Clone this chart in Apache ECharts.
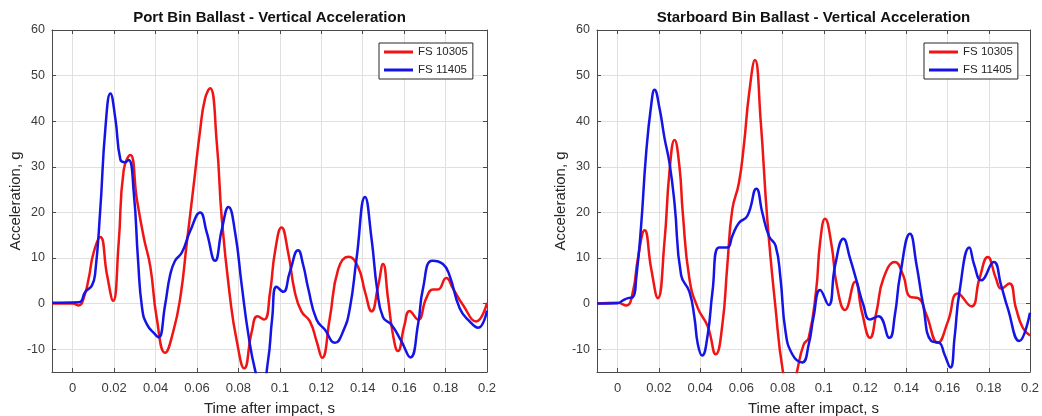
<!DOCTYPE html>
<html>
<head>
<meta charset="utf-8">
<script src="https://cdn.jsdelivr.net/npm/echarts@6/dist/echarts.min.js"></script>
<style>
  html, body { margin: 0; padding: 0; background: #ffffff; }
  #chart { width: 1042px; height: 416px; }
</style>
</head>
<body>
<div id="chart"></div>
<script>
// Test labels and panel titles
const seriesNames = ['FS 10305', 'FS 11405'];
const panelTitles = [
  'Port Bin Ballast - Vertical Acceleration',
  'Starboard Bin Ballast - Vertical Acceleration'
];
const xAxisTitle = 'Time after impact, s';
const yAxisTitle = 'Acceleration, g';

// Tick positions
const xTickValues = [0, 0.02, 0.04, 0.06, 0.08, 0.1, 0.12, 0.14, 0.16, 0.18, 0.2];
const yTickValues = [-10, 0, 10, 20, 30, 40, 50, 60];

// Port bin ballast, FS 10305 (time s, acceleration g)
const portTime10305 = [-0.01, 0.0, 0.0029, 0.0055, 0.0077, 0.0101, 0.0133, 0.0166, 0.0195, 0.0222, 0.0246, 0.0278, 0.031, 0.0343, 0.0375, 0.0405, 0.0446, 0.0486, 0.052, 0.0551, 0.0583, 0.0615, 0.0639, 0.0663, 0.0696, 0.072, 0.076, 0.0792, 0.0828, 0.0865, 0.0892, 0.0924, 0.0953, 0.0976, 0.1008, 0.104, 0.1072, 0.1104, 0.1145, 0.1177, 0.1204, 0.1241, 0.1282, 0.133, 0.1378, 0.1411, 0.1443, 0.1475, 0.1498, 0.1522, 0.1546, 0.157, 0.1602, 0.1626, 0.1667, 0.1707, 0.1739, 0.1763, 0.1803, 0.1836, 0.1884, 0.1948, 0.2];
const portAccel10305 = [0, 0, -0.4, 1.5, 5.5, 11.2, 14.6, 6.2, 0.6, 13.4, 29.2, 32.6, 22.8, 14.5, 8, -3, -10.8, -6, 1.5, 13.4, 25.6, 38, 45, 47.2, 35, 18.4, 1.2, -8.2, -14.2, -6, -2.8, -3.5, 2.6, 11.2, 16.7, 11.2, 2.6, -1.7, -3.9, -8.2, -11.9, -3.2, 7.6, 10.3, 8, 2.6, -1.7, 4, 8.7, 1.2, -6.8, -10.4, -4.6, -1.6, -3.5, 1.2, 3.1, 3.1, 5.6, 3.3, -0.3, -3.9, 0.2];

// Port bin ballast, FS 11405
const portTime11405 = [-0.01, 0.0029, 0.0061, 0.0093, 0.0109, 0.0133, 0.0158, 0.0182, 0.0206, 0.023, 0.0251, 0.027, 0.0295, 0.0315, 0.0335, 0.0359, 0.0399, 0.0415, 0.0446, 0.047, 0.0494, 0.0527, 0.0567, 0.0615, 0.0647, 0.0687, 0.072, 0.0752, 0.0784, 0.0816, 0.0848, 0.0881, 0.0912, 0.0943, 0.0963, 0.0984, 0.1016, 0.1048, 0.1088, 0.1113, 0.1137, 0.1177, 0.1217, 0.1266, 0.1306, 0.1338, 0.137, 0.1411, 0.1443, 0.147, 0.1498, 0.1538, 0.1586, 0.163, 0.1667, 0.1691, 0.1736, 0.1787, 0.1819, 0.1868, 0.1916, 0.1957, 0.2];
const portAccel11405 = [0.2, 0.3, 2.6, 4, 6.9, 20.6, 38.6, 46.1, 40.5, 31.6, 31.0, 31.5, 24.2, 9.8, -1, -4.6, -6.8, -7.4, -0.3, 6.2, 9.4, 11.2, 15.9, 20, 15.6, 9.4, 16.3, 21.2, 15.6, 4, -6.8, -14.7, -19, -12.5, -3.2, 3.7, 2.6, 6.9, 11.7, 8.4, 3.3, -3.5, -5.7, -8.6, -6, -1, 9.8, 23.4, 14.1, 3, -3, -4.6, -8.2, -11.8, -4.6, 3.3, 9.4, 8.7, 6.2, -1, -3.9, -5.3, -1.5];

// Starboard bin ballast, FS 10305
const stbdTime10305 = [-0.01, 0.0, 0.0042, 0.0074, 0.0098, 0.0131, 0.0163, 0.0195, 0.0227, 0.0252, 0.0276, 0.03, 0.0316, 0.0348, 0.0389, 0.0437, 0.0476, 0.0508, 0.0532, 0.0556, 0.0588, 0.0613, 0.0637, 0.0666, 0.0694, 0.0726, 0.0766, 0.0801, 0.084, 0.0871, 0.0903, 0.0927, 0.0963, 0.0982, 0.1006, 0.1038, 0.1063, 0.1103, 0.1152, 0.1184, 0.1224, 0.1256, 0.1289, 0.1345, 0.1385, 0.1418, 0.1458, 0.1497, 0.1553, 0.1602, 0.165, 0.1715, 0.1755, 0.1795, 0.1835, 0.186, 0.19, 0.1932, 0.1965, 0.2];
const stbdAccel10305 = [0, 0.2, -0.4, 2.6, 9.8, 16.1, 7.6, 1.2, 13.4, 29.2, 35.9, 30, 19.9, 5.5, -1, -5, -11.1, -4.6, 8.4, 20.6, 26.4, 35, 45.8, 53.4, 40, 18.4, -1, -14.7, -22, -14.7, -8.9, -7.5, 3, 13.4, 18.6, 12.7, 4, -1.4, 4.8, -1.7, -7.5, -1.7, 5.5, 9.1, 6.2, 1.5, 1.2, -2.4, -8.6, -3.9, 2.2, -0.6, 5.5, 10.2, 5.5, 3.3, 4.4, -1, -5.3, -7];

// Starboard bin ballast, FS 11405
const stbdTime11405 = [-0.01, 0.0, 0.0026, 0.005, 0.0074, 0.009, 0.0114, 0.0138, 0.0163, 0.0179, 0.0203, 0.0227, 0.0252, 0.0276, 0.0308, 0.0348, 0.0373, 0.0389, 0.041, 0.0437, 0.046, 0.0492, 0.0532, 0.0556, 0.0588, 0.0629, 0.0673, 0.0702, 0.0734, 0.0766, 0.079, 0.0814, 0.0847, 0.0895, 0.0927, 0.095, 0.0982, 0.1023, 0.1055, 0.1095, 0.1128, 0.116, 0.1192, 0.1224, 0.1265, 0.1318, 0.1345, 0.137, 0.1418, 0.145, 0.1482, 0.1521, 0.1561, 0.1585, 0.1614, 0.1634, 0.1658, 0.1706, 0.173, 0.1763, 0.1824, 0.186, 0.1892, 0.1948, 0.2];
const stbdAccel11405 = [0, 0.1, 0.7, 1.2, 1.4, 5.5, 17.1, 32.8, 43.6, 46.9, 42.9, 36.4, 30.7, 22, 6.2, 2.6, -3.2, -8.9, -11.4, -6.8, 2.6, 12.3, 12.3, 14.8, 17.7, 19.2, 25.2, 19.9, 14.8, 12.7, 5.5, -6, -11.1, -12.9, -8.9, -3, 3, -0.3, 8.4, 14.2, 9.8, 4.8, -0.3, -3.5, -2.8, -7.5, -2.4, 6.2, 15.3, 8.4, -0.3, -8.2, -8.6, -11.1, -14, -7.5, 2.6, 12.3, 8.4, 5.1, 9.1, 4, -1, -8.2, -2];

const lineColors = ['#f01414', '#1414e6'];
const fontFamily = '"Liberation Sans", Arial, Helvetica, sans-serif';
const boxColor = '#4a4a4a';
const gridColor = '#e0e0e0';

function pairs(ts, vs) {
  return ts.map((t, i) => [t, vs[i]]);
}

const grids = [
  { left: 52, top: 30, width: 435, height: 342, outerBoundsMode: 'none', containLabel: false },
  { left: 597, top: 30, width: 433, height: 342, outerBoundsMode: 'none', containLabel: false }
];

function fmtX(v) {
  return String(+(+v).toFixed(2));
}

function xAxisFor(gridIndex, position, main) {
  return {
    type: 'value', gridIndex, position,
    min: -0.01, max: 0.2,
    axisLine: { show: true, onZero: false, lineStyle: { color: boxColor, width: 1 } },
    axisTick: { show: true, inside: true, length: 4, customValues: xTickValues, lineStyle: { color: boxColor } },
    axisLabel: {
      show: main, customValues: xTickValues, margin: 10,
      color: '#3a3a3a', fontSize: 13, fontFamily, formatter: fmtX
    },
    splitLine: { show: main, lineStyle: { color: gridColor, width: 1 } },
    name: main ? xAxisTitle : '',
    nameLocation: 'middle', nameGap: 29,
    nameTextStyle: { color: '#262626', fontSize: 15, fontFamily }
  };
}

function yAxisFor(gridIndex, position, main) {
  return {
    type: 'value', gridIndex, position,
    min: -15, max: 60,
    axisLine: { show: true, onZero: false, lineStyle: { color: boxColor, width: 1 } },
    axisTick: { show: true, inside: true, length: 4, customValues: yTickValues, lineStyle: { color: boxColor } },
    axisLabel: {
      show: main, customValues: yTickValues, margin: 7,
      color: '#3a3a3a', fontSize: 12.5, fontFamily
    },
    splitLine: { show: main, lineStyle: { color: gridColor, width: 1 } },
    name: main ? yAxisTitle : '',
    nameLocation: 'middle', nameGap: 27, nameRotate: 90,
    nameTextStyle: { color: '#262626', fontSize: 15, fontFamily }
  };
}

function lineSeries(name, data, color, axisIndex) {
  return {
    type: 'line', name, data,
    xAxisIndex: axisIndex, yAxisIndex: axisIndex,
    smooth: 0.5, showSymbol: false, symbol: 'none',
    lineStyle: { color, width: 2.5 },
    itemStyle: { color },
    clip: true, z: 3
  };
}

function legendFor(left) {
  return {
    data: seriesNames, orient: 'vertical', left, top: 43,
    icon: 'rect', itemWidth: 29, itemHeight: 3, itemGap: 6, itemTextGap: 2,
    padding: [3, 5, 3, 5],
    borderColor: '#262626', borderWidth: 1, backgroundColor: '#ffffff',
    textStyle: { color: '#262626', fontSize: 11.5, fontFamily, lineHeight: 12 },
    selectedMode: false
  };
}

const chart = echarts.init(document.getElementById('chart'), null, { renderer: 'canvas' });

chart.setOption({
  animation: false,
  backgroundColor: '#ffffff',
  title: [
    { text: panelTitles[0], left: 269.5, top: 10, textAlign: 'center', padding: 0,
      textStyle: { fontSize: 15, fontWeight: 'bold', color: '#111', fontFamily } },
    { text: panelTitles[1], left: 813.5, top: 10, textAlign: 'center', padding: 0,
      textStyle: { fontSize: 15, fontWeight: 'bold', color: '#111', fontFamily } }
  ],
  legend: [legendFor(379), legendFor(924)],
  grid: grids,
  xAxis: [
    xAxisFor(0, 'bottom', true), xAxisFor(1, 'bottom', true),
    xAxisFor(0, 'top', false), xAxisFor(1, 'top', false)
  ],
  yAxis: [
    yAxisFor(0, 'left', true), yAxisFor(1, 'left', true),
    yAxisFor(0, 'right', false), yAxisFor(1, 'right', false)
  ],
  series: [
    lineSeries(seriesNames[0], pairs(portTime10305, portAccel10305), lineColors[0], 0),
    lineSeries(seriesNames[1], pairs(portTime11405, portAccel11405), lineColors[1], 0),
    lineSeries(seriesNames[0], pairs(stbdTime10305, stbdAccel10305), lineColors[0], 1),
    lineSeries(seriesNames[1], pairs(stbdTime11405, stbdAccel11405), lineColors[1], 1)
  ]
});
</script>
</body>
</html>
